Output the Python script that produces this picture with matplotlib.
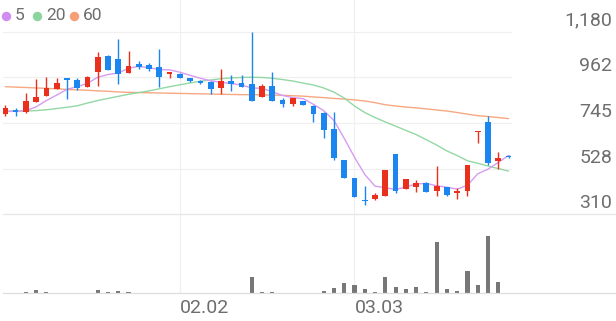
import numpy as np
import matplotlib
matplotlib.use('Agg')
import matplotlib.pyplot as plt
from matplotlib.lines import Line2D
import matplotlib.transforms as mtransforms

# ---------------- data ----------------
opens = [786, 807, 796, 846, 875, 906, 958, 950, 916, 989,
         1064, 1050, 982, 1026, 1023, 1010, 978, 978, 958, 945,
         939, 910, 945, 934, 931, 870, 923, 855, 835, 851,
         827, 794, 716, 569, 482, 380, 383, 399, 596, 429,
         439, 459, 422, 442, 410, 422, 702, 751, 564, 589]
highs = [831, 815, 886, 953, 963, 958, 958, 961, 970, 1085,
         1069, 1145, 1088, 1040, 1029, 1096, 989, 985, 961, 950,
         945, 1001, 974, 974, 1177, 929, 989, 863, 863, 851,
         831, 796, 799, 569, 482, 445, 410, 521, 596, 477,
         473, 465, 542, 442, 434, 545, 707, 780, 605, 592]
lows = [780, 778, 793, 846, 875, 906, 859, 902, 916, 921,
        997, 931, 982, 1001, 993, 918, 958, 961, 942, 929,
        882, 882, 899, 915, 851, 870, 851, 823, 826, 831,
        751, 672, 569, 482, 394, 354, 378, 399, 413, 429,
        418, 418, 397, 399, 381, 397, 648, 545, 524, 579]
closes = [818, 796, 850, 870, 910, 934, 948, 913, 966, 1061,
          997, 977, 1018, 1013, 1004, 963, 987, 961, 945, 934,
          907, 947, 929, 915, 851, 923, 851, 837, 863, 831,
          788, 712, 580, 482, 394, 375, 402, 521, 422, 477,
          461, 418, 445, 402, 421, 545, 707, 553, 580, 582]
volumes = [3, 3, 10, 33, 17, 7, 7, 7, 7, 33,
           10, 27, 10, 7, 5, 5, 5, 5, 3, 3,
           3, 7, 7, 7, 167, 10, 17, 7, 7, 7,
           7, 27, 50, 100, 83, 40, 13, 160, 60, 40,
           67, 17, 513, 40, 23, 223, 80, 577, 117, 3]
ma5 = [800, 801, 803, 822, 852, 878, 905, 918, 934, 963,
       976, 983, 1006, 1015, 1008, 1000, 998, 987, 972, 958,
       946, 939, 933, 926, 912, 910, 894, 876, 866, 861,
       834, 804, 757, 672, 582, 500, 444, 437, 428, 440,
       455, 457, 446, 439, 430, 448, 503, 525, 557, 590]
ma20 = [802, 802, 802, 804, 808, 814, 820, 827, 840, 852,
        862, 872, 882, 890, 898, 908, 918, 927, 936, 944,
        950, 956, 960, 962, 963, 962, 958, 952, 945, 935,
        926, 912, 892, 864, 826, 795, 771, 750, 730, 710,
        690, 665, 640, 612, 590, 565, 553, 540, 528, 516]
ma60 = [918, 916, 914, 912, 910, 908, 905, 903, 901, 898,
        896, 893, 891, 890, 889, 888, 887, 886, 885, 884,
        883, 882, 881, 880, 880, 879, 878, 877, 875, 873,
        869, 866, 862, 859, 855, 850, 842, 832, 826, 821,
        817, 812, 807, 802, 795, 787, 780, 776, 771, 766]
xtick_idx = [17, 34]
xtick_labels = ['02.02', '03.03']
ytick_values = [310, 527.5, 745, 962.5, 1180]
ytick_labels = ['310', '528', '745', '962', '1,180']
legend_labels = ['5', '20', '60']

# ---------------- style ----------------
W, H = 616, 321
UP, DOWN = '#e8301c', '#1b86f0'
MA_COLORS = ['#d69cf2', '#93d8a4', '#f7a882']
DOT_COLORS = ['#d08cef', '#8cd49e', '#f69f76']
TXT = '#6e6e6e'
GRID = '#f0f0f0'
FONT = ['Roboto', 'DejaVu Sans']
plt.rcParams['font.family'] = FONT

fig = plt.figure(figsize=(W / 100, H / 100), dpi=100)
fig.patch.set_facecolor('white')

def fx(px):
    return px / W

def fy(py):
    return 1 - py / H

left_px, right_px = 2.7, 512.0
price_bot, vol_bot = 214.3, 293.3
ax = fig.add_axes([fx(left_px), fy(price_bot), fx(right_px - left_px), price_bot / H])
axv = fig.add_axes([fx(left_px), fy(vol_bot), fx(right_px - left_px), (vol_bot - price_bot) / H])

n = len(closes)
x = np.arange(n)
o = np.array(opens, float); c = np.array(closes, float)
hi = np.array(highs, float); lo = np.array(lows, float)
cols = [UP if cc >= oo else DOWN for oo, cc in zip(o, c)]

step = 10.27
x0 = 5.3
xl = (-(x0 - left_px) / step, (right_px - x0) / step)
for a in (ax, axv):
    a.set_xlim(*xl)
    for s in a.spines.values():
        s.set_visible(False)
    a.set_xticks([]); a.set_yticks([])
    a.patch.set_alpha(0)

units_per_px = (1180 - 310) / (price_bot - 31.7)
ax.set_ylim(310, 310 + price_bot * units_per_px)

for v in ytick_values[1:]:
    ax.axhline(v, color=GRID, lw=0.9, zorder=0)
for xi in xtick_idx:
    ax.axvline(xi, color=GRID, lw=0.9, zorder=0)
    axv.axvline(xi, color=GRID, lw=0.9, zorder=0)

# moving averages
for ma, col in zip([ma60, ma20, ma5], MA_COLORS[::-1]):
    ax.plot(x, ma, color=col, lw=1.0, zorder=2, solid_capstyle='round')

# candles
ax.vlines(x, lo, hi, colors=cols, lw=1.0, zorder=3)
body_h = np.maximum(np.abs(c - o), 5)
ax.bar(x, body_h, bottom=np.minimum(o, c), width=0.56, color=cols, zorder=4, linewidth=0)

# volume
vmax = max(volumes)
axv.set_ylim(0, vmax * (vol_bot - price_bot) / 57.7)
axv.bar(x, volumes, width=0.4, color='#777777', linewidth=0, zorder=3)

# full-width base lines
fig.add_artist(Line2D([fx(left_px), 1], [fy(price_bot), fy(price_bot)], color='#e6e6e6', lw=0.9,
                      transform=fig.transFigure))
fig.add_artist(Line2D([fx(left_px), 1], [fy(vol_bot), fy(vol_bot)], color='#dedede', lw=0.9,
                      transform=fig.transFigure))

# y labels
ytrans = mtransforms.blended_transform_factory(fig.transFigure, ax.transData)
ytrans = mtransforms.offset_copy(ytrans, fig=fig, x=0, y=11 * 0.72, units='points')
for v, lab in zip(ytick_values, ytick_labels):
    fig.text(fx(612), v, lab, transform=ytrans, ha='right', va='center',
             fontsize=14, color=TXT)

# x labels
xtrans = mtransforms.blended_transform_factory(axv.transData, fig.transFigure)
for xi, lab in zip(xtick_idx, xtick_labels):
    fig.text(xi, fy(308), lab, transform=xtrans, ha='left', va='center',
             fontsize=14, color=TXT)

# legend
dot_x = [6.3, 37.3, 74.0]
txt_x = [15.0, 46.7, 83.3]
for dx, tx, lab, col in zip(dot_x, txt_x, legend_labels, DOT_COLORS):
    fig.add_artist(Line2D([fx(dx)], [fy(15.8)], marker='o', ms=6.8, color=col,
                          markeredgewidth=0, linestyle='none', transform=fig.transFigure))
    fig.text(fx(tx), fy(15.6), lab, ha='left', va='center', fontsize=12.5, color=TXT)

fig.savefig('out.png', dpi=100, facecolor='white')
